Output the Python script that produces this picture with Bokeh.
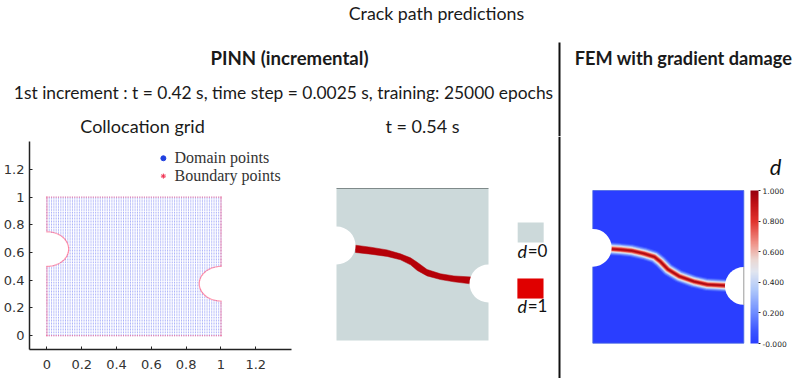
import numpy as np
from bokeh.core.properties import value
from bokeh.embed import file_html
from bokeh.layouts import column, row
from bokeh.models import ColorBar, FixedTicker, LinearColorMapper, Range1d
from bokeh.plotting import figure
from bokeh.resources import INLINE

# ---- texts ----
head_texts = ["Crack path predictions", "PINN (incremental)",
              "1st increment : t = 0.42 s, time step = 0.0025 s, training: 25000 epochs",
              "Collocation grid", "t = 0.54 s", "FEM with gradient damage"]
head_x = [436, 289, 283, 142, 422, 683]
head_y = [12, 57, 91.5, 125, 125, 57]
head_size = ["17.8px", "18.6px", "17.4px", "18px", "18px", "18.2px"]
head_weight = ["normal", "bold", "normal", "normal", "normal", "bold"]

ticks = [0, 0.2, 0.4, 0.6, 0.8, 1, 1.2]
tick_labels = {0: "0", 0.2: "0.2", 0.4: "0.4", 0.6: "0.6", 0.8: "0.8", 1: "1", 1.2: "1.2"}

# ---- geometry ----
notch_cx = [0.0, 1.0]
notch_cy = [0.625, 0.375]
notch_r = 0.125
grid_nx = 76
grid_ny = 92

# ---- PINN crack band ----
crack_x = [.125, .224, .333, .421, .487, .531, .596, .684, .772, .893]
crack_up = [.627, .614, .596, .570, .544, .515, .467, .439, .425, .417]
crack_lo = [.579, .568, .553, .531, .498, .461, .425, .401, .386, .371]

# ---- FEM crack centre line ----
fem_x = [.113, .184, .261, .339, .409, .449, .498, .571, .670, .759, .874]
fem_y = [.618, .613, .605, .587, .565, .533, .483, .439, .404, .384, .378]

cb_ticks = [0, 0.2, 0.4, 0.6, 0.8, 1.0]
cb_anchor = [0, .08, .2, .35, .47, .55, .65, .8, .92, 1]
cb_cols = [(42, 62, 255), (60, 85, 255), (110, 140, 255), (175, 200, 250), (225, 230, 240),
           (235, 215, 210), (240, 150, 140), (225, 50, 45), (190, 15, 20), (150, 0, 15)]


def hexcol(v):
    c = [np.interp(v, cb_anchor, [k[i] for k in cb_cols]) for i in range(3)]
    return "#%02x%02x%02x" % tuple(int(round(a)) for a in c)


palette = [hexcol(v) for v in np.linspace(0, 1, 256)]


def blank(w, h, xr, yr):
    f = figure(width=w, height=h, x_range=Range1d(*xr), y_range=Range1d(*yr), output_backend="svg",
               toolbar_location=None, min_border=0, x_axis_type=None, y_axis_type=None, frame_align=False)
    f.grid.visible = False
    f.outline_line_color = None
    f.background_fill_color = None
    f.border_fill_color = None
    return f


# ---- header ----
top = blank(793, 136, (0, 793), (136, 0))
top.text(head_x, head_y, text=head_texts, text_font=value("Lato"), text_font_size=head_size,
         text_font_style=head_weight, text_align="center", text_baseline="middle", text_color="#1a1a1a")
top.segment([559], [42], [559], [136], line_color="#111111", line_width=2)

# ---- collocation grid ----
left = figure(width=305, height=242, x_range=Range1d(-0.1, 1.405), y_range=Range1d(-0.1, 1.402),
              output_backend="svg", toolbar_location=None, frame_align=False,
              min_border_left=28, min_border_right=14, min_border_top=5, min_border_bottom=29)
left.grid.visible = False
left.outline_line_color = None
for ax in (left.xaxis[0], left.yaxis[0]):
    ax.ticker = FixedTicker(ticks=ticks)
    ax.major_label_overrides = tick_labels
    ax.major_label_text_font = "DejaVu Sans"
    ax.major_label_text_font_size = "13px"
    ax.major_label_text_color = "#333333"
    ax.axis_line_color = "#222222"
    ax.axis_line_width = 1.5
    ax.major_tick_line_color = "#222222"
    ax.major_tick_in = 3
    ax.major_tick_out = 0
    ax.minor_tick_line_color = None
left.xaxis[0].major_label_standoff = 10
left.yaxis[0].major_label_standoff = 5

gx, gy = [a.ravel() for a in np.meshgrid(np.linspace(0, 1, grid_nx), np.linspace(0, 1, grid_ny))]
keep = np.ones(gx.shape, bool)
for cx, cy in zip(notch_cx, notch_cy):
    keep &= (gx - cx) ** 2 + (gy - cy) ** 2 > notch_r ** 2
left.scatter(gx[keep], gy[keep], marker="square", size=1.0, line_color=None, fill_color="#3040f0", fill_alpha=0.42)

bx, by = [], []
for t in np.linspace(0, 1, grid_nx):
    bx += [t, t]
    by += [0.0, 1.0]
for t in np.linspace(0, 1, grid_ny):
    if not abs(t - .625) < notch_r:
        bx.append(0.0); by.append(t)
    if not abs(t - .375) < notch_r:
        bx.append(1.0); by.append(t)
th = np.linspace(-np.pi / 2, np.pi / 2, 60)
bx += list(notch_r * np.cos(th)); by += list(notch_cy[0] + notch_r * np.sin(th))
bx += list(1 - notch_r * np.cos(th)); by += list(notch_cy[1] + notch_r * np.sin(th))
left.scatter(bx, by, marker="square", size=1.2, line_color=None, fill_color="#ff3060", fill_alpha=0.48)

left.scatter([0.669], [1.281], marker="circle", size=5, color="#2040e0")
left.scatter([0.669], [1.152], marker="asterisk", size=5, line_color="#f03050")
left.text([0.733, 0.733], [1.288, 1.159], text=["Domain points", "Boundary points"],
          text_font=value("Liberation Serif"), text_font_size="16px", text_baseline="middle", text_color="#333333")

# ---- PINN result ----
mid = blank(260, 242, ((305 - 336) / 152, (565 - 336) / 152), ((340 - 378) / 152, (340 - 136) / 152))
mid.quad(left=[0], right=[1], bottom=[0], top=[1], fill_color="#ccd9da", line_color=None)
mid.patch(crack_x + crack_x[::-1], crack_up + crack_lo[::-1], fill_color="#b50008", line_color="#b50008", line_width=0.5)
mid.circle(notch_cx, notch_cy, radius=notch_r, fill_color="white", line_color=None)
mid.segment([0], [1], [1], [1], line_color="#7f8a8a", line_width=1.2)
mid.segment([(559 - 336) / 152], [(340 - 136) / 152], [(559 - 336) / 152], [(340 - 378) / 152],
            line_color="#111111", line_width=2)
mid.quad(left=[1.192], right=[1.363], bottom=[.645], top=[.776], fill_color="#ccd9da", line_color=None)
mid.quad(left=[1.19], right=[1.362], bottom=[.276], top=[.408], fill_color="#e00000", line_color=None)
mid.text([1.19, 1.19], [.592, .228], text=["d", "d"], text_font=value("Lato"), text_font_style="italic",
         text_font_size="18px", text_baseline="middle", text_color="#111111")
mid.text([1.258, 1.258], [.592, .228], text=["=0", "=1"], text_font=value("Lato"),
         text_font_size="17px", text_baseline="middle", text_color="#111111")

# ---- FEM result ----
right = blank(228, 242, ((565 - 592.3) / 151, (793 - 592.3) / 151), ((342.7 - 378) / 152.7, (342.7 - 136) / 152.7))
right.quad(left=[0], right=[1], bottom=[0], top=[1], fill_color=hexcol(0), line_color="#4a6adf", line_width=0.8)
for w, v in zip([13, 11, 9, 7.5, 6, 5, 3.8, 2.6, 1.4], [.08, .18, .3, .42, .55, .65, .75, .85, .95]):
    right.line(fem_x, fem_y, line_color=hexcol(v), line_width=w, line_cap="round", line_join="round")
right.circle(notch_cx, notch_cy, radius=notch_r, fill_color="white", line_color=None)
right.segment([1], [.25], [1], [.5], line_color="#9a9a9a", line_width=1)
right.text([(775 - 592.3) / 151], [(342.7 - 166) / 152.7], text=["d"], text_font=value("Lato"),
           text_font_style="italic", text_font_size="22px", text_align="center", text_baseline="middle",
           text_color="#111111")
mapper = LinearColorMapper(palette=palette, low=0, high=1)
cb = ColorBar(color_mapper=mapper, ticker=FixedTicker(ticks=cb_ticks), width=8, height=153,
              location=(750 - 565, 378 - 343), padding=0, margin=0, background_fill_color=None, bar_line_color=None,
              major_label_text_font="DejaVu Sans", major_label_text_font_size="7.5px",
              major_label_text_color="#222222", major_tick_line_color="#222222", major_tick_in=0, major_tick_out=2,
              minor_tick_line_color=None, label_standoff=2,
              major_label_overrides={0: "-0.000", 0.2: "0.200", 0.4: "0.400", 0.6: "0.600", 0.8: "0.800", 1.0: "1.000"})
right.add_layout(cb)

page = column(top, row(left, mid, right, spacing=0), spacing=0)
open("out.html", "w").write(file_html(page, INLINE))
